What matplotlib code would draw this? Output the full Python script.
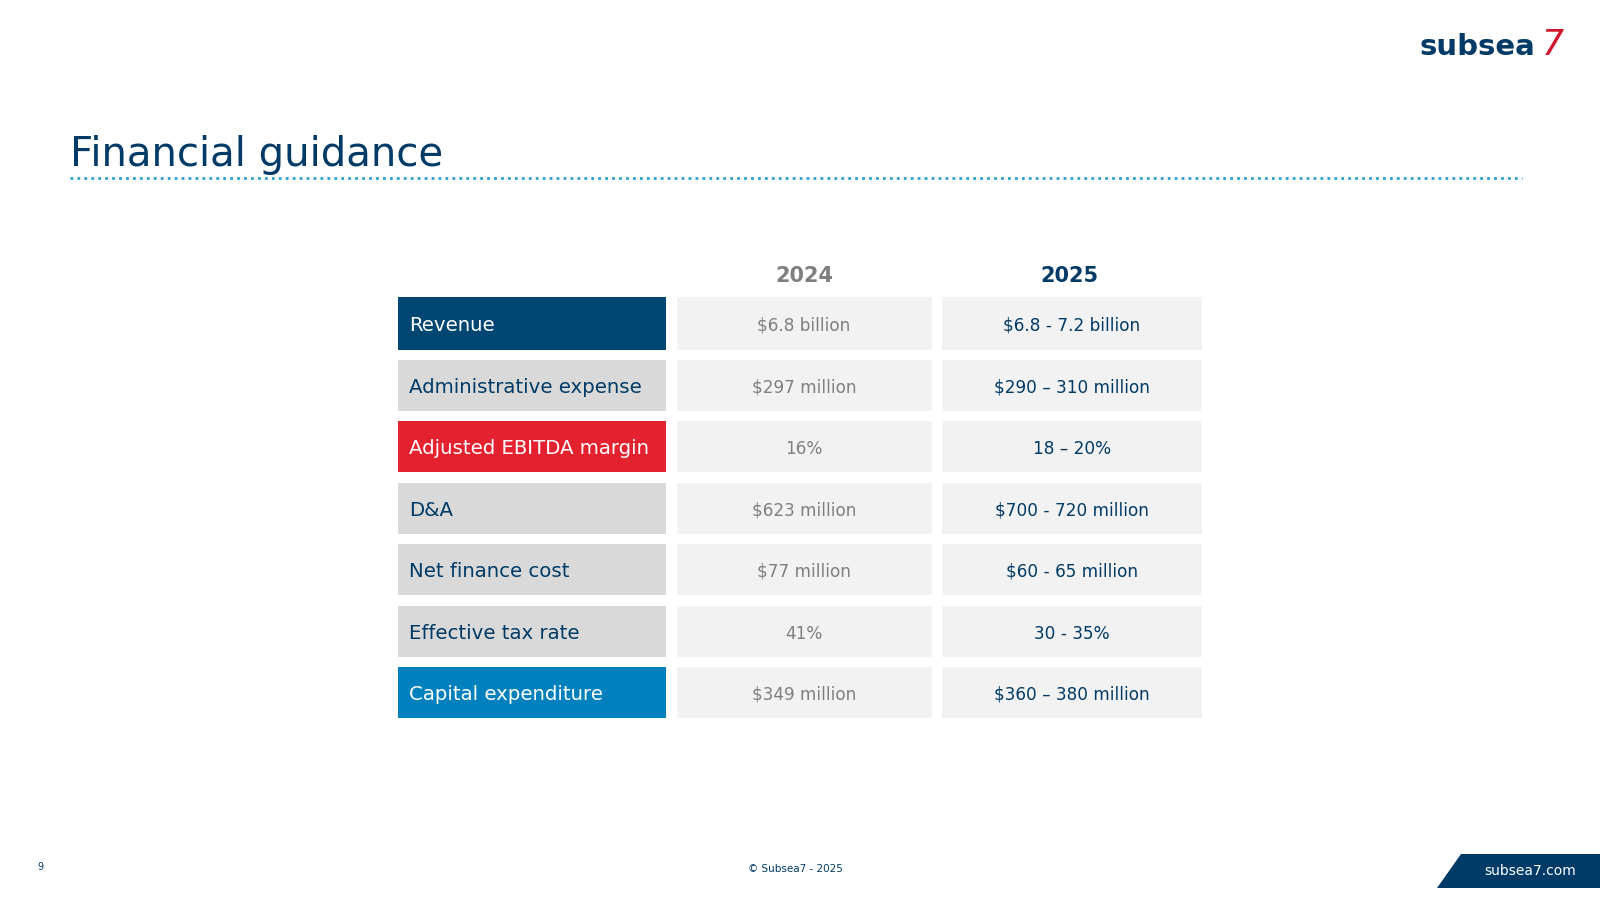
import matplotlib
matplotlib.use("Agg")
import matplotlib.pyplot as plt
from matplotlib.patches import Rectangle, Polygon

labels = ["Revenue", "Administrative expense", "Adjusted EBITDA margin", "D&A",
          "Net finance cost", "Effective tax rate", "Capital expenditure"]
vals_2024 = ["$6.8 billion", "$297 million", "16%", "$623 million",
             "$77 million", "41%", "$349 million"]
vals_2025 = ["$6.8 - 7.2 billion", "$290 \u2013 310 million", "18 \u2013 20%",
             "$700 - 720 million", "$60 - 65 million", "30 - 35%", "$360 \u2013 380 million"]
years = ["2024", "2025"]

NAVY = "#003a66"
label_bg = ["#004672", "#d9d9d9", "#e3212f", "#d9d9d9", "#d9d9d9", "#d9d9d9", "#0080bc"]
label_fg = ["white", NAVY, "white", NAVY, NAVY, NAVY, "white"]

W, H = 1568, 882
fig = plt.figure(figsize=(16, 9), dpi=100)
ax = fig.add_axes([0, 0, 1, 1])
ax.set_xlim(0, W); ax.set_ylim(H, 0); ax.axis("off")
font = "DejaVu Sans"

ax.text(69, 152, "Financial guidance", fontsize=29, color=NAVY, va="center", family=font)
ax.plot([69, 1492], [174, 174], color="#2a9fd8", lw=2, ls=(0, (1, 1.5)))

# logo
ax.text(1505, 46, "subsea", fontsize=21, color=NAVY, va="center", ha="right", family=font, fontweight="semibold")
ax.text(1511, 44, "7", fontsize=25, color="#d0152c", va="center", ha="left", family=font, style="italic")

cols = [(663, 913), (923, 1178)]
ax.text(788, 270, years[0], fontsize=15, color="#7f7f7f", ha="center", va="center", fontweight="bold", family=font)
ax.text(1048, 270, years[1], fontsize=15, color=NAVY, ha="center", va="center", fontweight="bold", family=font)

row_top = [291, 353, 413, 473, 533, 594, 654]
for i, lab in enumerate(labels):
    y0 = row_top[i]; h = 52 if i == 0 else 50
    ax.add_patch(Rectangle((390, y0), 263, h, color=label_bg[i], lw=0))
    ax.text(401, y0 + h / 2 + 2, lab, fontsize=14.2, color=label_fg[i], va="center", family=font)
    for (x0, x1), v, c in zip(cols, [vals_2024[i], vals_2025[i]], ["#7f7f7f", NAVY]):
        ax.add_patch(Rectangle((x0, y0), x1 - x0, h, color="#f2f2f2", lw=0))
        ax.text((x0 + x1) / 2, y0 + h / 2 + 2, v, fontsize=12.2, color=c, ha="center", va="center", family=font)

ax.text(37, 850, "9", fontsize=7, color=NAVY, va="center", family=font)
ax.text(780, 852, "\u00a9 Subsea7 - 2025", fontsize=7.5, color=NAVY, ha="center", va="center", family=font)
ax.add_patch(Polygon([(1432, 837), (W, 837), (W, 870), (1408, 870)], color=NAVY, lw=0))
ax.text(1500, 854, "subsea7.com", fontsize=10, color="white", ha="center", va="center", family=font)

fig.savefig("out.png", dpi=100, facecolor="white")
